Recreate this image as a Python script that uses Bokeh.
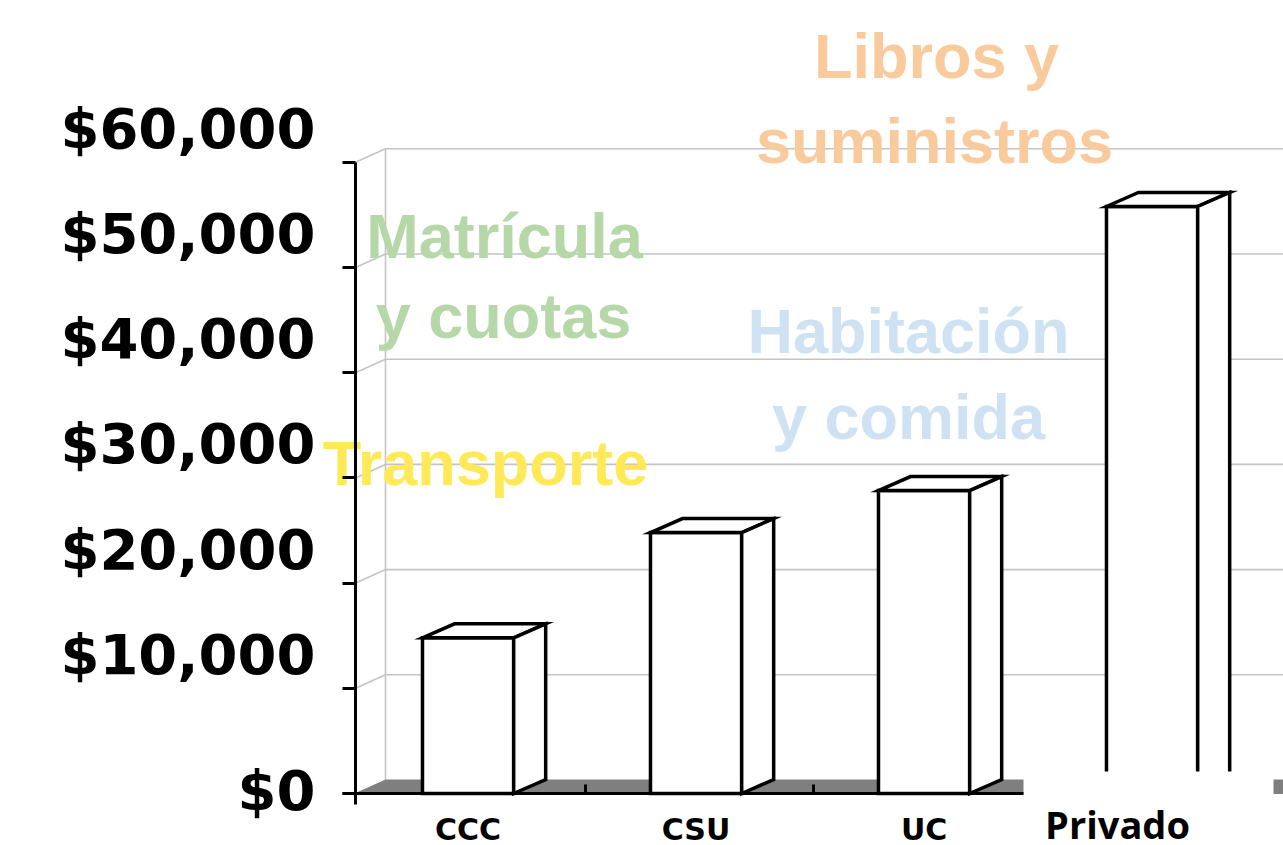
from bokeh.plotting import figure
from bokeh.models import Range1d, FixedTicker, LinearAxis, Label
from bokeh.embed import file_html
from bokeh.resources import INLINE

# ---------------- data ----------------
categories = ["CCC", "CSU", "UC", "Privado"]
costs = [14800, 24800, 28800, 55800]
y_ticks = [0, 10000, 20000, 30000, 40000, 50000, 60000]
y_tick_labels = ["$0", "$10,000", "$20,000", "$30,000", "$40,000", "$50,000", "$60,000"]
overlay_texts = ["Libros y", "suministros", "Matrícula", "y cuotas",
                 "Habitación", "y comida", "Transporte"]
overlay_colors = ["#F9CB9C", "#F9CB9C", "#B6D7A8", "#B6D7A8",
                  "#CFE2F3", "#CFE2F3", "#FFE957"]

# ---------------- geometry / style ----------------
W, H = 1283, 845
PX_X = 228.0            # px per category
PX_Y = 105.2 / 10000.0  # px per dollar

def sx(px):   # reference pixel -> category units
    return (px - 357) / PX_X

def sy(py):   # reference pixel -> dollars
    return (793 - py) / PX_Y

x_start, x_end = sx(0), sx(W)
y_start, y_end = sy(H), sy(0)

BAR_L, BAR_R = 0.285, 0.685
DX, DY = 32 / PX_X, 14 / PX_Y
WALL_DX, WALL_DY = 30 / PX_X, 13.5 / PX_Y
axis_x = sx(355)

p = figure(width=W, height=H, output_backend="svg", toolbar_location=None,
           x_range=Range1d(x_start, x_end), y_range=Range1d(y_start, y_end),
           min_border=0, min_border_left=0, min_border_right=0,
           min_border_top=0, min_border_bottom=0)
p.outline_line_color = None
p.grid.visible = False
p.background_fill_color = "white"

# back wall / floor
wall_x = axis_x + WALL_DX
grid_xs, grid_ys = [], []
for v in y_ticks[1:]:
    grid_xs.append([axis_x, wall_x, x_end])
    grid_ys.append([v, v + WALL_DY, v + WALL_DY])
p.multi_line(grid_xs, grid_ys, line_color="#c4c4c4", line_width=1.6)
p.line([wall_x, wall_x], [WALL_DY, y_ticks[-1] + WALL_DY], line_color="#c4c4c4", line_width=1.6)
p.patch([axis_x, wall_x, x_end, x_end], [0, WALL_DY, WALL_DY, 0],
        fill_color="#7f7f7f", line_color="#7f7f7f", line_width=1)

# overlay texts
pos = [(936, 55), (934, 140), (504, 235), (503, 315), (908, 330), (908, 416), (485, 462)]
for t, c, (px, py) in zip(overlay_texts, overlay_colors, pos):
    p.add_layout(Label(x=sx(px), y=sy(py), text=t, text_align="center",
                       text_baseline="alphabetic", text_font="Liberation Sans",
                       text_font_style="bold", text_font_size="63px", text_color=c,
                       level="glyph"))

# bars
idx = list(range(len(categories)))
lefts = [i + BAR_L for i in idx]
rights = [i + BAR_R for i in idx]
p.quad(left=lefts, right=rights, bottom=0, top=costs,
       fill_color="white", line_color="black", line_width=3.5, line_join="miter")
top_xs = [[l, l + DX, r + DX, r] for l, r in zip(lefts, rights)]
top_ys = [[c, c + DY, c + DY, c] for c in costs]
p.patches(top_xs, top_ys, fill_color="white", line_color="black", line_width=3.5, line_join="miter")
side_xs = [[r, r + DX, r + DX, r] for r in rights]
side_ys = [[0, DY, c + DY, c] for c in costs]
p.patches(side_xs, side_ys, fill_color="white", line_color="black", line_width=3.5, line_join="miter")

# white box hiding the bottom of the last bar (label box)
p.quad(left=sx(1023), right=sx(1273), bottom=y_start, top=sy(771),
       fill_color="white", line_color=None)

# x axis (drawn at $0)
centers = [i + (BAR_L + BAR_R) / 2 for i in idx[:-1]]
xa = p.xaxis[0]
xa.fixed_location = 0
xa.ticker = FixedTicker(ticks=centers, minor_ticks=idx[1:3])
xa.major_label_overrides = {c: lab for c, lab in zip(centers, categories)}
xa.major_tick_in = 0
xa.major_tick_out = 0
xa.minor_tick_in = 9
xa.minor_tick_out = 0
xa.minor_tick_line_width = 3
xa.axis_line_width = 3
xa.axis_line_color = "black"
xa.bounds = (sx(342), sx(1023))
xa.major_label_text_font = "DejaVu Sans"
xa.major_label_text_font_style = "bold"
xa.major_label_text_font_size = "30px"
xa.major_label_text_color = "black"
xa.major_label_standoff = 18

# Privado label (different font, in its own box)
p.add_layout(Label(x=sx(1117), y=sy(823), text=categories[3], text_align="center",
                   text_baseline="alphabetic", text_font="Open Sans", text_font_style="bold",
                   text_font_size="38px", text_color="black"))

# y axis (ticks + line)
ya = p.yaxis[0]
ya.fixed_location = axis_x
ya.ticker = FixedTicker(ticks=y_ticks)
ya.major_label_overrides = {t: "" for t in y_ticks}
ya.major_label_text_font_size = "1px"
ya.major_label_standoff = 0
ya.major_tick_out = 13
ya.major_tick_in = 0
ya.major_tick_line_width = 3
ya.axis_line_width = 3
ya.axis_line_color = "black"
ya.minor_tick_line_color = None
ya.bounds = (sy(804), y_ticks[-1])

# y tick labels (drawn slightly above their ticks, as in the reference)
shift = 34 / PX_Y
p.extra_y_ranges = {"lab": Range1d(y_start - shift, y_end - shift)}
lab_ticks = [t if t != 0 else 3 / PX_Y - shift for t in y_ticks]
la = LinearAxis(y_range_name="lab", ticker=FixedTicker(ticks=lab_ticks), fixed_location=axis_x)
la.major_label_overrides = {t: s for t, s in zip(lab_ticks, y_tick_labels)}
la.axis_line_color = None
la.major_tick_line_color = None
la.minor_tick_line_color = None
la.major_tick_out = 0
la.major_tick_in = 0
la.minor_tick_out = 0
la.minor_tick_in = 0
la.major_label_text_font = "DejaVu Sans"
la.major_label_text_font_style = "bold"
la.major_label_text_font_size = "56px"
la.major_label_text_color = "black"
la.major_label_standoff = 40
p.add_layout(la, "left")

open("out.html", "w").write(file_html(p, INLINE))
